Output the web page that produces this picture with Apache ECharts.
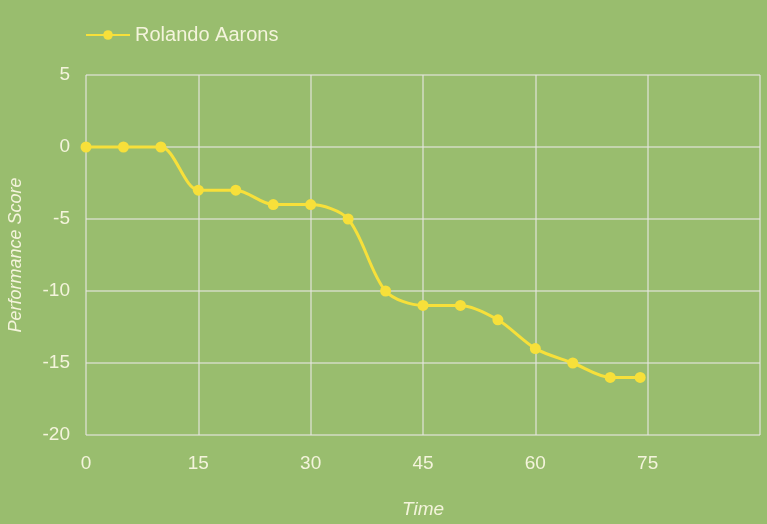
<!DOCTYPE html>
<html>
<head>
<meta charset="utf-8">
<script src="https://cdn.jsdelivr.net/npm/echarts@6/dist/echarts.min.js"></script>
<style>
  html, body { margin: 0; padding: 0; background: #99bd6e; }
  #chart { width: 767px; height: 524px; }
</style>
</head>
<body>
<div id="chart"></div>
<script>
// data
const seriesName = "Rolando Aarons";
const timeValues = [0, 5, 10, 15, 20, 25, 30, 35, 40, 45, 50, 55, 60, 65, 70, 74];
const scoreValues = [0, 0, 0, -3, -3, -4, -4, -5, -10, -11, -11, -12, -14, -15, -16, -16];

const textColor = "#f4f4dc";
const lineColor = "#f7e03a";
const gridColor = "rgba(230,230,225,0.75)";
const fontFamily = "Arial, Liberation Sans, sans-serif";

const myChart = echarts.init(document.getElementById("chart"));

myChart.setOption({
  backgroundColor: "#99bd6e",
  legend: {
    left: 80,
    top: 20,
    itemWidth: 44,
    itemHeight: 12,
    itemGap: 8,
    textStyle: { color: textColor, fontSize: 20, fontFamily: fontFamily },
    data: [seriesName],
  },
  grid: {
    left: 86,
    right: 7,
    top: 75,
    bottom: 89,
    containLabel: false,
    outerBoundsMode: "none",
  },
  xAxis: {
    type: "value",
    min: 0,
    max: 90,
    interval: 15,
    name: "Time",
    nameLocation: "middle",
    nameGap: 65,
    nameTextStyle: { color: textColor, fontSize: 19, fontStyle: "italic", fontFamily: fontFamily },
    axisLine: { show: false },
    axisTick: { show: false },
    axisLabel: { color: textColor, fontSize: 19, margin: 19, showMaxLabel: false, fontFamily: fontFamily },
    splitLine: { show: true, lineStyle: { color: gridColor, width: 1.5 } },
  },
  yAxis: {
    type: "value",
    min: -20,
    max: 5,
    interval: 5,
    name: "Performance Score",
    nameLocation: "middle",
    nameGap: 61,
    nameTextStyle: { color: textColor, fontSize: 18, fontStyle: "italic", fontFamily: fontFamily },
    axisLine: { show: false },
    axisTick: { show: false },
    axisLabel: { color: textColor, fontSize: 19, margin: 16, fontFamily: fontFamily },
    splitLine: { show: true, lineStyle: { color: gridColor, width: 1.5 } },
  },
  series: [
    {
      name: seriesName,
      type: "line",
      smooth: 0.3,
      symbol: "circle",
      symbolSize: 11,
      data: timeValues.map((t, i) => [t, scoreValues[i]]),
      lineStyle: { color: lineColor, width: 3 },
      itemStyle: { color: lineColor },
    },
  ],
});
</script>
</body>
</html>
